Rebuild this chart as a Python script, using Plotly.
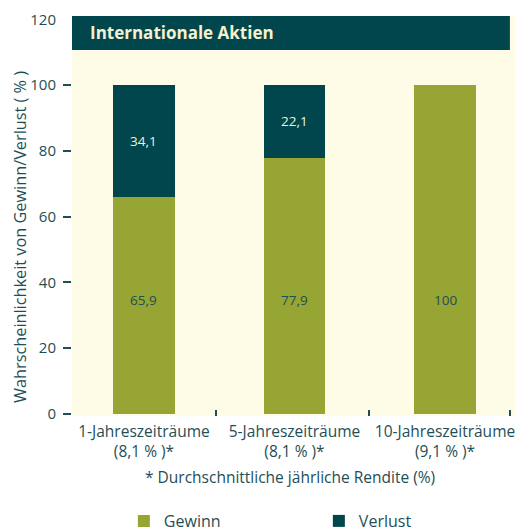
import plotly.graph_objects as go

categories = ["1-Jahreszeiträume<br>(8,1 % )*", "5-Jahreszeiträume<br>(8,1 % )*", "10-Jahreszeiträume<br>(9,1 % )*"]
gewinn = [65.9, 77.9, 100]
verlust = [34.1, 22.1, 0]
gewinn_labels = ["65,9", "77,9", "100"]
verlust_labels = ["34,1", "22,1", ""]
y_ticks = [0, 20, 40, 60, 80, 100, 120]

GREEN = "#96A533"
DARK = "#02464D"
CREAM = "#FEFCE6"
TEXT = "#1F4E55"
FONT = "Open Sans"

xs = list(range(len(categories)))

fig = go.Figure()
fig.add_trace(go.Bar(x=xs, y=gewinn, name="Gewinn", marker=dict(color=GREEN, line_width=0), width=0.41))
fig.add_trace(go.Bar(x=xs, y=verlust, name="Verlust", marker=dict(color=DARK, line_width=0), width=0.41))

ann = []
for i, (g, v) in enumerate(zip(gewinn, verlust)):
    ann.append(dict(x=i, y=34.6, xref="x", yref="y", text=gewinn_labels[i], showarrow=False,
                    font=dict(size=13.5, color=TEXT, family=FONT)))
    if v > 0:
        ann.append(dict(x=i, y=g + v / 2, xref="x", yref="y", text=verlust_labels[i], showarrow=False,
                        font=dict(size=13.5, color="#F4F1D0", family=FONT)))

ann.append(dict(x=-0.1153, y=0.4475, xref="paper", yref="paper", text="Wahrscheinlichkeit von Gewinn/Verlust ( % )",
                textangle=-90, showarrow=False, xanchor="center", yanchor="middle",
                font=dict(size=16.3, color=TEXT, family=FONT)))
ann.append(dict(x=0.483, y=-0.1525, xref="paper", yref="paper", text="* Durchschnittliche jährliche Rendite (%)",
                showarrow=False, xanchor="center", yanchor="middle", font=dict(size=15.5, color=TEXT, family=FONT)))
ann.append(dict(x=0.036, y=0.9575, xref="paper", yref="paper", text="<b>Internationale Aktien</b>", xanchor="left",
                yanchor="middle", showarrow=False, font=dict(size=17, color="#F4F1D0", family=FONT)))

# page body has an 8px margin: figure is sized/offset to compensate
fig.update_layout(
    width=515, height=524,
    margin=dict(l=64, r=0, t=8, b=116, autoexpand=False),
    paper_bgcolor="white",
    plot_bgcolor=CREAM,
    barmode="stack",
    font=dict(family=FONT, color=TEXT, size=14),
    annotations=ann,
    shapes=[dict(type="rect", xref="paper", yref="paper", x0=0, x1=0.971, y0=0.915, y1=1.0,
                 fillcolor=DARK, line_width=0, layer="above")],
    xaxis=dict(range=[-0.478, 2.518], tickvals=xs, ticktext=categories, ticks="", showgrid=False,
               zeroline=False, showline=False, tickfont=dict(size=15.5, color=TEXT), automargin=False,
               ticklabelstandoff=4,
               minor=dict(tickvals=[0.478, 1.495, 2.43], ticks="inside", ticklen=6, tickcolor=TEXT, tickwidth=1.5)),
    yaxis=dict(range=[-0.6, 121], tickvals=y_ticks, ticks="", showgrid=False, zeroline=False, showline=False,
               tickfont=dict(size=15, color=TEXT), ticklabelstandoff=15, automargin=False,
               minor=dict(tickvals=[0, 20, 40, 60, 80, 100], ticks="outside", ticklen=8, tickcolor=TEXT, tickwidth=1.5)),
    legend=dict(orientation="h", x=0.115, y=-0.22, xanchor="left", yanchor="top",
                font=dict(size=16, color=TEXT), entrywidth=150, entrywidthmode="pixels", traceorder="normal"),
)

fig.write_html("out.html")
